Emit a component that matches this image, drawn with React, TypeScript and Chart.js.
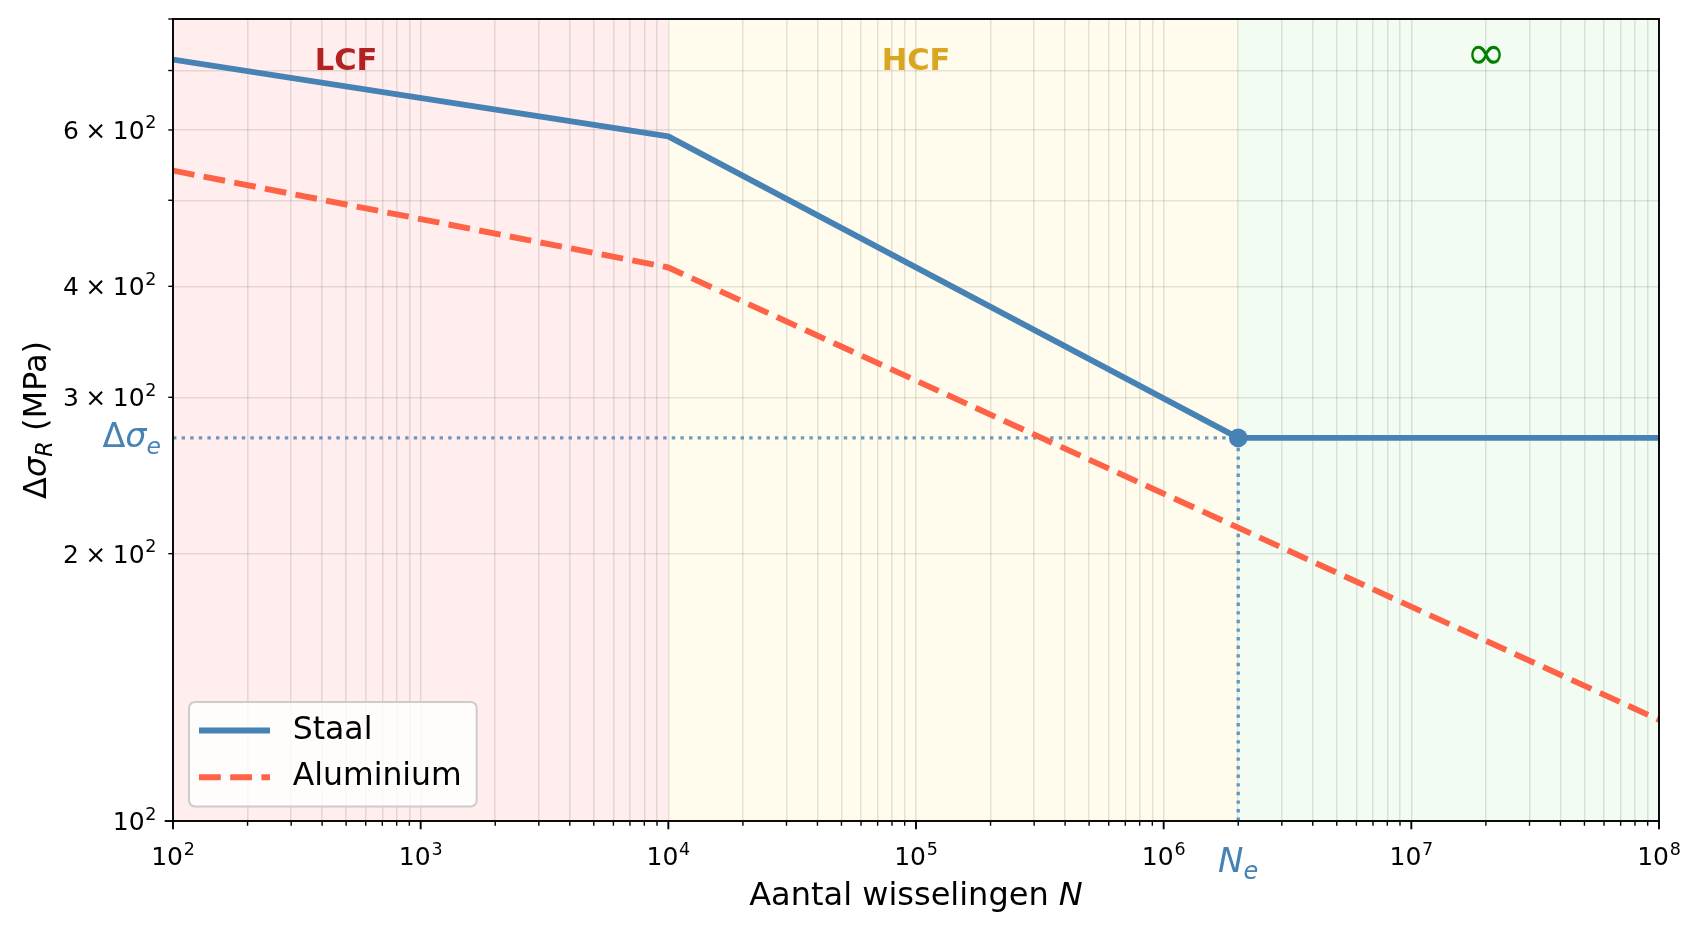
import React, { useEffect, useRef } from 'react';
import { Chart, registerables } from 'chart.js';

Chart.register(...registerables);

// S-N curves (log-log)
const staalN = [1e2, 1e4, 2e6, 1e8];
const staalStress = [720, 590, 270, 270];
const aluN = [1e2, 1e4, 1e8];
const aluStress = [540, 420, 130];
const neCycles = 2e6;
const enduranceLimit = 270;

// fatigue regions
const regionEdges = [1e2, 1e4, 2e6, 1e8];
const regionFills = ['#FFEEED', '#FFFCED', '#F2FCF2'];
const regionLabels = ['LCF', 'HCF', '∞'];
const regionLabelN = [5e2, 1e5, 2e7];
const regionLabelColors = ['#B22222', '#DAA520', '#008000'];
const regionLabelStress = 715;

// axes
const xMin = 1e2;
const xMax = 1e8;
const yMin = 100;
const yMax = 800;
const xExponents = [2, 3, 4, 5, 6, 7, 8];
const yTicks = [100, 200, 300, 400, 500, 600, 700, 800];
const yLabelValues = [100, 200, 300, 400, 600];
const yLabelMantissa = [1, 2, 3, 4, 6];

const STEEL = '#4682B4';
const TOMATO = '#FF6347';
const FONT = '"DejaVu Sans"';

const xMajorTicks = xExponents.map((e) => Math.pow(10, e));
const xMinorTicks: number[] = [];
xExponents.slice(0, -1).forEach((e) => {
  for (let m = 2; m <= 9; m++) xMinorTicks.push(m * Math.pow(10, e));
});

type Seg = { t: string; size: number; dy?: number; italic?: boolean; bold?: boolean; gap?: number };

const setFont = (ctx: CanvasRenderingContext2D, s: Seg) => {
  ctx.font = `${s.italic ? 'italic ' : ''}${s.bold ? 'bold ' : ''}${s.size}px ${FONT}`;
};

const drawRich = (ctx: CanvasRenderingContext2D, segs: Seg[], x: number, y: number, align: string, color: string) => {
  let total = 0;
  segs.forEach((s) => {
    setFont(ctx, s);
    total += (s.gap || 0) + ctx.measureText(s.t).width;
  });
  let cur = align === 'right' ? x - total : align === 'center' ? x - total / 2 : x;
  ctx.fillStyle = color;
  ctx.textAlign = 'left';
  ctx.textBaseline = 'alphabetic';
  segs.forEach((s) => {
    setFont(ctx, s);
    cur += s.gap || 0;
    ctx.fillText(s.t, cur, y + (s.dy || 0));
    cur += ctx.measureText(s.t).width;
  });
};

const powerLabel = (mantissa: number, exp: number, size: number): Seg[] => {
  const segs: Seg[] = [];
  if (mantissa !== 1) {
    segs.push({ t: String(mantissa), size });
    segs.push({ t: '×', size, gap: 0.26 * size });
  }
  segs.push({ t: '10', size, gap: mantissa !== 1 ? 0.26 * size : 0 });
  segs.push({ t: String(exp), size: size * 0.7, dy: -0.42 * size, gap: 0.03 * size });
  return segs;
};

const sketchPlugin = {
  id: 'sketch',
  beforeDraw(chart: any) {
    const { ctx, chartArea } = chart;
    const xs = chart.scales.x;
    ctx.save();
    for (let i = 0; i < regionFills.length; i++) {
      const x0 = xs.getPixelForValue(regionEdges[i]);
      const x1 = xs.getPixelForValue(regionEdges[i + 1]);
      ctx.fillStyle = regionFills[i];
      ctx.fillRect(x0, chartArea.top, x1 - x0, chartArea.bottom - chartArea.top);
    }
    ctx.restore();
  },
  afterDraw(chart: any) {
    const { ctx, chartArea } = chart;
    const { left, right, top, bottom } = chartArea;
    const xs = chart.scales.x;
    const ys = chart.scales.y;
    ctx.save();

    // region labels
    regionLabels.forEach((lab, i) => {
      const px = xs.getPixelForValue(regionLabelN[i]);
      const py = ys.getPixelForValue(regionLabelStress);
      ctx.fillStyle = regionLabelColors[i];
      ctx.textAlign = 'center';
      ctx.textBaseline = 'middle';
      ctx.font = lab === '∞' ? `48px ${FONT}` : `bold 30.5px ${FONT}`;
      ctx.fillText(lab, px, lab === '∞' ? py - 6 : py);
    });

    // spines
    ctx.strokeStyle = '#000';
    ctx.lineWidth = 1.9;
    ctx.strokeRect(left, top, right - left, bottom - top);

    // x ticks
    ctx.beginPath();
    ctx.lineWidth = 1.9;
    xMajorTicks.forEach((v) => {
      const px = xs.getPixelForValue(v);
      ctx.moveTo(px, bottom);
      ctx.lineTo(px, bottom + 8.3);
    });
    ctx.stroke();
    ctx.beginPath();
    ctx.lineWidth = 1.4;
    xMinorTicks.forEach((v) => {
      const px = xs.getPixelForValue(v);
      ctx.moveTo(px, bottom);
      ctx.lineTo(px, bottom + 4.7);
    });
    ctx.stroke();

    // y ticks
    yTicks.forEach((v) => {
      const py = ys.getPixelForValue(v);
      const major = v === 100;
      ctx.beginPath();
      ctx.lineWidth = major ? 1.9 : 1.4;
      ctx.moveTo(left, py);
      ctx.lineTo(left - (major ? 8.3 : 4.7), py);
      ctx.stroke();
    });

    // tick labels
    xExponents.forEach((e) => {
      const px = xs.getPixelForValue(Math.pow(10, e));
      drawRich(ctx, powerLabel(1, e, 25), px, bottom + 44, 'center', '#000');
    });
    yLabelValues.forEach((v, i) => {
      const py = ys.getPixelForValue(v);
      drawRich(ctx, powerLabel(yLabelMantissa[i], 2, 25), left - 16.5, py + 9, 'right', '#000');
    });

    // endurance annotations
    const neX = xs.getPixelForValue(neCycles);
    drawRich(
      ctx,
      [
        { t: 'N', size: 34, italic: true },
        { t: 'e', size: 24, italic: true, dy: 7 },
      ],
      neX,
      bottom + 51,
      'center',
      STEEL,
    );
    const seY = ys.getPixelForValue(enduranceLimit);
    drawRich(
      ctx,
      [
        { t: 'Δ', size: 33.5 },
        { t: 'σ', size: 33.5, italic: true },
        { t: 'e', size: 23.5, italic: true, dy: 6.6 },
      ],
      left - 12,
      seY + 9,
      'right',
      STEEL,
    );

    // axis titles
    drawRich(
      ctx,
      [
        { t: 'Aantal wisselingen ', size: 32 },
        { t: 'N', size: 32, italic: true },
      ],
      (left + right) / 2,
      897,
      'center',
      '#000',
    );
    ctx.save();
    ctx.translate(38, (top + bottom) / 2);
    ctx.rotate(-Math.PI / 2);
    drawRich(
      ctx,
      [
        { t: 'Δ', size: 32 },
        { t: 'σ', size: 32, italic: true },
        { t: 'R', size: 22.4, italic: true, dy: 6.4 },
        { t: ' (MPa)', size: 32 },
      ],
      0,
      0,
      'center',
      '#000',
    );
    ctx.restore();

    // legend
    const bx = left + 16;
    const by = bottom - 119;
    const bw = 287.7;
    const bh = 104.5;
    ctx.beginPath();
    ctx.roundRect(bx, by, bw, bh, 6);
    ctx.fillStyle = 'rgba(255,255,255,0.8)';
    ctx.fill();
    ctx.strokeStyle = '#CCCCCC';
    ctx.lineWidth = 2;
    ctx.stroke();
    chart.data.datasets.slice(0, 2).forEach((ds: any, i: number) => {
      const ly = by + 28.5 + i * 46.7;
      ctx.beginPath();
      ctx.strokeStyle = ds.borderColor;
      ctx.lineWidth = ds.borderWidth;
      ctx.setLineDash(ds.borderDash || []);
      ctx.moveTo(bx + 10, ly);
      ctx.lineTo(bx + 81, ly);
      ctx.stroke();
      ctx.setLineDash([]);
      ctx.fillStyle = '#000';
      ctx.font = `31.5px ${FONT}`;
      ctx.textAlign = 'left';
      ctx.textBaseline = 'middle';
      ctx.fillText(ds.label, bx + 103.7, ly);
    });

    ctx.restore();
  },
};

const App = () => {
  const canvasRef = useRef<HTMLCanvasElement | null>(null);

  useEffect(() => {
    if (!canvasRef.current) return;
    const guide = {
      showLine: true,
      borderColor: 'rgba(70,130,180,0.8)',
      borderWidth: 3.4,
      borderDash: [3.4, 5.2],
      pointRadius: 0,
      order: 2,
      clip: 0,
    };
    const chart = new Chart(canvasRef.current, {
      type: 'scatter',
      data: {
        datasets: [
          {
            label: 'Staal',
            data: staalN.map((n, i) => ({ x: n, y: staalStress[i] })),
            showLine: true,
            borderColor: STEEL,
            backgroundColor: STEEL,
            borderWidth: 5.9,
            borderJoinStyle: 'round',
            pointRadius: (c: any) => (staalN[c.dataIndex] === neCycles ? 9.3 : 0),
            pointBorderWidth: 0,
            pointBackgroundColor: STEEL,
            order: 0,
            clip: 0,
          },
          {
            label: 'Aluminium',
            data: aluN.map((n, i) => ({ x: n, y: aluStress[i] })),
            showLine: true,
            borderColor: TOMATO,
            backgroundColor: TOMATO,
            borderWidth: 5.9,
            borderDash: [21.8, 9.4],
            borderJoinStyle: 'round',
            pointRadius: 0,
            order: 1,
            clip: 0,
          },
          {
            label: 'endurance-h',
            data: [
              { x: xMin, y: enduranceLimit },
              { x: neCycles, y: enduranceLimit },
            ],
            ...guide,
          },
          {
            label: 'endurance-v',
            data: [
              { x: neCycles, y: yMin },
              { x: neCycles, y: enduranceLimit },
            ],
            ...guide,
          },
        ],
      },
      options: {
        animation: false,
        responsive: true,
        maintainAspectRatio: false,
        events: [],
        layout: { padding: { top: 11, right: 35, left: 0, bottom: 0 } },
        plugins: { legend: { display: false }, tooltip: { enabled: false } },
        scales: {
          x: {
            type: 'logarithmic',
            min: xMin,
            max: xMax,
            ticks: { display: false },
            border: { display: false },
            grid: { color: 'rgba(0,0,0,0.1)', lineWidth: 1.5, drawTicks: false },
            afterBuildTicks: (s: any) => {
              s.ticks = [...xMajorTicks, ...xMinorTicks].sort((a, b) => a - b).map((v) => ({ value: v }));
            },
            afterFit: (s: any) => {
              s.height = 104;
            },
          },
          y: {
            type: 'logarithmic',
            min: yMin,
            max: yMax,
            ticks: { display: false },
            border: { display: false },
            grid: { color: 'rgba(0,0,0,0.1)', lineWidth: 1.5, drawTicks: false },
            afterBuildTicks: (s: any) => {
              s.ticks = yTicks.map((v) => ({ value: v }));
            },
            afterFit: (s: any) => {
              s.width = 165;
            },
          },
        },
      } as any,
      plugins: [sketchPlugin as any],
    });
    return () => chart.destroy();
  }, []);

  return (
    <div style={{ width: 1686, height: 917, position: 'relative' }}>
      <canvas ref={canvasRef}></canvas>
    </div>
  );
};

export default App;
